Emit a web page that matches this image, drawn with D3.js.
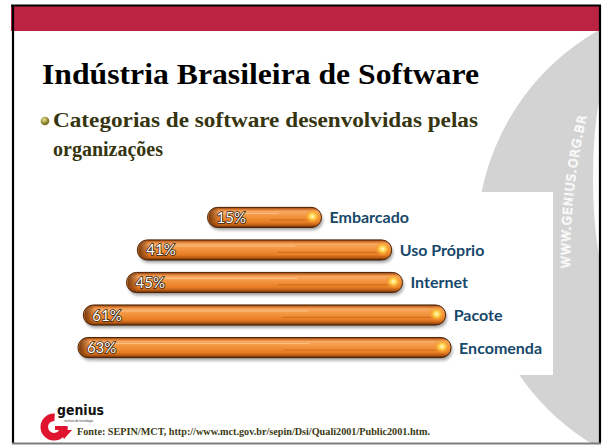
<!DOCTYPE html>
<html><head><meta charset="utf-8">
<script src="https://cdn.jsdelivr.net/npm/d3@7"></script>
<style>html,body{margin:0;padding:0;background:#fff;}svg{display:block;}</style>
</head><body>
<script>
// ---- data ----
const categories = ["Embarcado", "Uso Próprio", "Internet", "Pacote", "Encomenda"];
const values = [15, 41, 45, 61, 63];
const valueLabels = ["15%", "41%", "45%", "61%", "63%"];
const titleText = "Indústria Brasileira de Software";
const bulletLines = ["Categorias de software desenvolvidas pelas", "organizações"];
const sourceText = "Fonte: SEPIN/MCT, http://www.mct.gov.br/sepin/Dsi/Quali2001/Public2001.htm.";
const watermark = "WWW.GENIUS.ORG.BR";

const W = 602, H = 446;
const svg = d3.select("body").append("svg").attr("width", W).attr("height", H);
const defs = svg.append("defs");

defs.append("clipPath").attr("id", "slideClip").append("rect")
  .attr("x", 13).attr("y", 31).attr("width", 586).attr("height", 412);

const bg = defs.append("linearGradient").attr("id", "barGrad").attr("x1", 0).attr("y1", 0).attr("x2", 0).attr("y2", 1);
[[0, "#7e3c0c"], [0.08, "#cc6c26"], [0.2, "#f8aa64"], [0.36, "#f59c4a"], [0.55, "#f08c34"], [0.75, "#e67c22"], [0.88, "#bb5c15"], [1, "#5a2808"]]
  .forEach(([o, c]) => bg.append("stop").attr("offset", o).attr("stop-color", c));
const gl = defs.append("radialGradient").attr("id", "glint");
[[0, "#fffbd0", 1], [0.35, "#ffd54a", 1], [0.7, "#f6a030", 0.6], [1, "#f08a30", 0]]
  .forEach(([o, c, a]) => gl.append("stop").attr("offset", o).attr("stop-color", c).attr("stop-opacity", a));
const lg = defs.append("linearGradient").attr("id", "leftGrad").attr("x1", 0).attr("x2", 1);
[[0, "#6a300a", 0.9], [1, "#6a300a", 0]].forEach(([o, c, a]) => lg.append("stop").attr("offset", o).attr("stop-color", c).attr("stop-opacity", a));
defs.append("filter").attr("id", "blur").attr("x", "-10%").attr("y", "-50%").attr("width", "120%").attr("height", "200%")
  .append("feGaussianBlur").attr("stdDeviation", 1.6);
const bul = defs.append("radialGradient").attr("id", "bulletGrad").attr("cx", "40%").attr("cy", "35%");
[[0, "#e6e0a0"], [0.6, "#b0a84a"], [1, "#7d7628"]].forEach(([o, c]) => bul.append("stop").attr("offset", o).attr("stop-color", c));

// ---- slide background ----
svg.append("rect").attr("width", W).attr("height", H).attr("fill", "#fff");
const deco = svg.append("g").attr("clip-path", "url(#slideClip)");
deco.append("circle").attr("cx", 717).attr("cy", 239).attr("r", 240).attr("fill", "#d3d3d3");
deco.append("ellipse").attr("cx", 612).attr("cy", 178).attr("rx", 19).attr("ry", 105).attr("fill", "#fdfdfd");
defs.append("path").attr("id", "wmPath").attr("d", "M 570,268 A 600 600 0 0 1 595,86");
deco.append("text").attr("font-family", "DejaVu Sans").attr("font-size", 12).attr("letter-spacing", 1.1)
  .attr("fill", "none").attr("stroke", "#ffffff").attr("stroke-width", 0.8)
  .append("textPath").attr("href", "#wmPath").text(watermark);

// red band & border
svg.append("rect").attr("x", 11).attr("y", 5).attr("width", 590).attr("height", 26).attr("fill", "#bb2343");
svg.append("line").attr("x1", 11).attr("x2", 601).attr("y1", 5.5).attr("y2", 5.5).attr("stroke", "#000").attr("stroke-width", 2);
svg.append("line").attr("x1", 13).attr("x2", 13).attr("y1", 5).attr("y2", 443).attr("stroke", "#000").attr("stroke-width", 2.2);
svg.append("line").attr("x1", 600).attr("x2", 600).attr("y1", 5).attr("y2", 443).attr("stroke", "#000").attr("stroke-width", 2.2);
svg.append("line").attr("x1", 12).attr("x2", 601).attr("y1", 443.5).attr("y2", 443.5).attr("stroke", "#7c7c7c").attr("stroke-width", 2);

// ---- title and bullet ----
svg.append("text").attr("x", 42).attr("y", 84).attr("font-family", "Liberation Serif, serif").attr("font-weight", "bold")
  .attr("font-size", 29).attr("fill", "#000").attr("textLength", 437).attr("lengthAdjust", "spacingAndGlyphs").text(titleText);
svg.append("circle").attr("cx", 45).attr("cy", 121).attr("r", 4.3).attr("fill", "url(#bulletGrad)");
svg.selectAll("text.bl").data(bulletLines).join("text").attr("class", "bl")
  .attr("x", 53).attr("y", (d, i) => 127 + i * 29)
  .attr("font-family", "Liberation Serif, serif").attr("font-weight", "bold").attr("font-size", 20).attr("fill", "#36350f")
  .attr("textLength", (d, i) => i === 0 ? 425 : null).attr("lengthAdjust", "spacingAndGlyphs")
  .text(d => d);

// ---- chart ----
svg.append("rect").attr("x", 66).attr("y", 192).attr("width", 487).attr("height", 183).attr("fill", "#fff");
const cxBars = 264.5;
const wScale = d3.scaleLinear().domain([0, 100]).range([33, 573]);
const y = d3.scaleBand().domain(categories).range([195, 370]).padding(0.38);
const bh = y.bandwidth();
const data = categories.map((c, i) => ({ c, v: values[i], lab: valueLabels[i] }));
const bar = svg.append("g").selectAll("g").data(data).join("g")
  .attr("transform", d => `translate(${cxBars - wScale(d.v) / 2},${y(d.c)})`);
bar.append("rect").attr("x", 1.5).attr("y", 2.8).attr("width", d => wScale(d.v)).attr("height", bh)
  .attr("rx", bh / 2).attr("fill", "#000").attr("opacity", 0.35).attr("filter", "url(#blur)");
bar.append("rect").attr("width", d => wScale(d.v)).attr("height", bh).attr("rx", bh / 2)
  .attr("fill", "url(#barGrad)").attr("stroke", "#4a2206").attr("stroke-width", 1);
bar.append("rect").attr("x", 1).attr("y", 1).attr("width", 12).attr("height", bh - 2).attr("rx", (bh - 2) / 2)
  .attr("fill", "url(#leftGrad)");
bar.append("line").attr("x1", bh / 2 + 4).attr("x2", d => wScale(d.v) * 0.62).attr("y1", bh * 0.3).attr("y2", bh * 0.3)
  .attr("stroke", "#fcc890").attr("stroke-width", 1).attr("opacity", 0.8);
bar.append("line").attr("x1", d => wScale(d.v) * 0.55).attr("x2", d => wScale(d.v) - bh / 2).attr("y1", bh * 0.62).attr("y2", bh * 0.62)
  .attr("stroke", "#c96418").attr("stroke-width", 1.2).attr("opacity", 0.7);
bar.append("ellipse").attr("cx", d => wScale(d.v) - bh * 0.45).attr("cy", bh * 0.45).attr("rx", bh * 0.42).attr("ry", bh * 0.38)
  .attr("fill", "url(#glint)");
bar.append("text").attr("x", 9).attr("y", bh / 2 + 5.5)
  .attr("font-family", "Lato, DejaVu Sans, sans-serif").attr("font-size", 15)
  .attr("fill", "#fff").attr("stroke", "#3a2410").attr("stroke-width", 1.6).attr("paint-order", "stroke")
  .text(d => d.lab);
bar.append("text").attr("x", d => wScale(d.v) + 8).attr("y", bh / 2 + 6)
  .attr("font-family", "Lato, DejaVu Sans, sans-serif").attr("font-weight", "bold").attr("font-size", 16).attr("fill", "#17486a")
  .text(d => d.c);

// ---- logo & footer ----
const logo = svg.append("g").attr("transform", "translate(54,427)");
logo.append("path").attr("d", d3.arc().innerRadius(6).outerRadius(13.5).startAngle(Math.PI * 0.5).endAngle(Math.PI * 2.02)())
  .attr("fill", "#e0142f");
logo.append("path").attr("d", "M1,-1 L13.5,-1 L13.5,3 L18,3 L10,12 L5,3 L1,3 Z").attr("fill", "#e0142f");
svg.append("text").attr("x", 57).attr("y", 414.5).attr("font-family", "DejaVu Sans, sans-serif").attr("font-weight", "bold")
  .attr("font-size", 14.5).attr("fill", "#111").attr("textLength", 47).attr("lengthAdjust", "spacingAndGlyphs").text("genius");
svg.append("text").attr("x", 64).attr("y", 421.8).attr("font-family", "Liberation Sans, sans-serif")
  .attr("font-size", 3).attr("fill", "#333").text("instituto de tecnologia");
svg.append("text").attr("x", 77).attr("y", 435).attr("font-family", "Liberation Serif, serif").attr("font-weight", "bold")
  .attr("font-size", 9.6).attr("fill", "#3a3a14").attr("textLength", 353).attr("lengthAdjust", "spacingAndGlyphs").text(sourceText);
</script>
</body></html>
